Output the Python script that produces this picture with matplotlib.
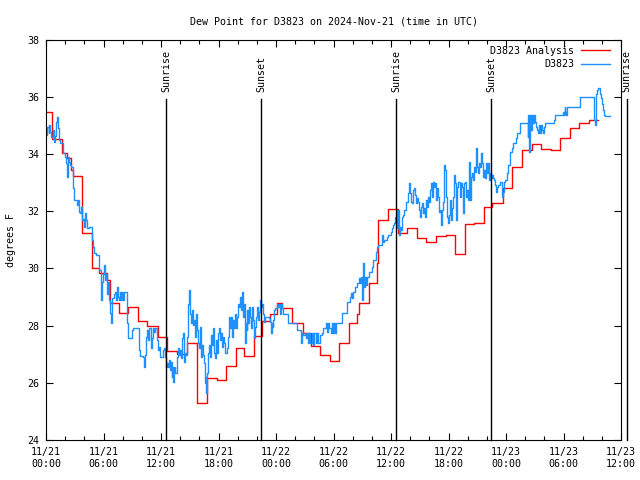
import matplotlib
matplotlib.use('Agg')
import matplotlib.pyplot as plt
import matplotlib.dates as mdates
import pandas as pd

plt.rcParams['font.family'] = 'DejaVu Sans Mono'
plt.rcParams['font.size'] = 7.2

start = pd.Timestamp('2024-11-21 00:00')

# analysis (hourly steps): hours since 11/21 00:00 UTC, dew point F
red_hours = [0.00, 0.66, 1.70, 2.19, 2.61, 2.79, 3.73, 4.80, 5.56, 6.40, 6.65, 7.62,
             8.59, 9.63, 10.57, 11.64, 12.63, 13.64, 14.71, 15.73, 16.77, 17.81,
             18.78, 19.80, 20.69, 21.74, 22.59, 23.37, 24.07, 24.60, 25.64, 26.77,
             27.65, 28.64, 29.64, 30.61, 31.62, 32.48, 32.66, 33.71, 34.54, 34.68,
             35.72, 36.76, 37.64, 38.68, 39.65, 40.67, 41.71, 42.68, 43.72, 44.69,
             45.74, 46.57, 47.66, 48.66, 49.67, 50.68, 51.65, 52.70, 53.67, 54.68,
             55.65, 56.66, 57.63]
red_dewpt = [35.45, 34.52, 34.02, 33.85, 33.44, 33.23, 31.25, 30.00, 29.83, 29.59, 28.78, 28.45,
             28.64, 28.17, 27.98, 27.59, 27.11, 26.99, 27.40, 25.30, 26.15, 26.09,
             26.57, 27.20, 26.93, 27.65, 28.16, 28.40, 28.78, 28.60, 28.10, 27.75,
             27.28, 26.97, 26.77, 27.38, 28.08, 28.40, 28.78, 29.48, 30.18, 31.69,
             32.06, 31.22, 31.40, 31.05, 30.93, 31.13, 31.16, 30.50, 31.54, 31.57,
             32.13, 32.29, 32.80, 33.55, 34.14, 34.35, 34.16, 34.14, 34.55, 34.90,
             35.09, 35.19, 35.19]

# station observations
blue_hours = [0.00, 0.14, 0.28, 0.35, 0.45, 0.56, 0.70, 0.80, 0.94, 1.04, 1.15, 1.25, 1.32, 1.46,
              1.67, 1.81, 1.95, 2.09, 2.16, 2.26, 2.37, 2.50, 2.64, 2.78, 2.96, 3.13, 3.23, 3.37,
              3.48, 3.58, 3.69, 3.76, 3.90, 4.00, 4.10, 4.21, 4.31, 4.45, 4.70, 4.80, 4.90, 5.04,
              5.22, 5.39, 5.57, 5.70, 5.77, 5.88, 5.98, 6.09, 6.19, 6.30, 6.37, 6.47, 6.57, 6.71,
              6.82, 6.92, 7.06, 7.20, 7.30, 7.41, 7.51, 7.62, 7.72, 7.83, 7.93, 8.07, 8.17, 8.35,
              8.45, 8.59, 8.77, 8.94, 9.11, 9.57, 9.67,
              9.81, 10.09, 10.23, 10.33, 10.44, 10.58, 10.68, 10.78, 10.92, 11.03, 11.13, 11.27,
              11.41, 11.55, 11.65, 11.76, 11.90, 12.07, 12.18, 12.31, 12.42, 12.49, 12.59, 12.70,
              12.80, 12.91, 13.01, 13.11, 13.18, 13.29, 13.39, 13.50, 13.64, 13.74, 13.84, 13.95,
              14.05, 14.16, 14.26, 14.37, 14.47, 14.58, 14.68, 14.75, 14.85, 14.96, 15.06, 15.17,
              15.27, 15.38, 15.48, 15.58, 15.69, 15.79, 15.90, 16.00, 16.11, 16.21, 16.31, 16.42,
              16.52, 16.59, 16.66, 16.73, 16.84, 16.94, 17.04, 17.15, 17.25, 17.36, 17.46, 17.57,
              17.67, 17.78, 17.88, 17.98, 18.09, 18.19, 18.30, 18.40, 18.51, 18.61, 18.71, 18.85,
              18.99, 19.13, 19.24, 19.34, 19.44, 19.55, 19.65, 19.76, 19.86, 19.97, 20.07, 20.18,
              20.24, 20.34, 20.41, 20.52, 20.59, 20.69, 20.80, 20.87, 20.94, 21.01, 21.11, 21.21,
              21.28, 21.39, 21.49, 21.60, 21.70, 21.81, 21.91, 22.05, 22.15, 22.26, 22.33, 22.43,
              22.54, 22.67, 22.74, 22.85, 23.23, 23.37, 23.47, 23.54, 23.65, 23.72, 23.82, 23.93,
              24.07, 24.17, 24.27, 24.38, 24.48, 24.59, 24.69, 25.21, 26.22, 26.61, 26.71, 26.85,
              27.02, 27.13, 27.23, 27.34, 27.44, 27.58, 27.72, 27.86, 28.00, 28.14, 28.27, 28.41,
              28.59, 28.76, 28.94, 29.07, 29.18, 29.28, 29.39, 29.49,
              29.64, 29.74, 29.85, 29.95, 30.06, 30.16, 30.27, 30.93, 31.38, 31.45, 31.73, 31.80,
              31.90, 32.00, 32.28, 32.42, 32.63, 32.77, 32.87, 32.94, 33.01, 33.08, 33.15, 33.26,
              33.36, 33.47, 33.74, 33.99, 34.16, 34.44, 34.54, 34.65, 35.07, 35.14, 35.31, 35.55,
              35.66, 35.97, 36.07, 36.18, 36.28, 36.39, 36.49, 36.60, 36.67, 36.74, 36.81, 36.87,
              36.94, 37.01, 37.12, 37.22, 37.36, 37.57, 37.71, 37.81, 37.92, 37.99, 38.06, 38.16,
              38.27, 38.37, 38.47, 38.58, 38.68, 38.79, 38.89, 38.96, 39.03, 39.14, 39.24, 39.34,
              39.45,
              39.55, 39.65, 39.76, 39.86, 39.97, 40.07, 40.18, 40.28, 40.38, 40.49, 40.59, 40.70,
              40.80, 40.91, 41.01, 41.12, 41.18, 41.25, 41.32, 41.43, 41.53, 41.64, 41.74, 41.85,
              41.95, 42.05, 42.16, 42.26, 42.37, 42.47, 42.58, 42.68, 42.78, 42.89, 42.99, 43.10,
              43.20, 43.31, 43.41, 43.52, 43.62, 43.72, 43.83, 43.93, 44.04, 44.11, 44.18, 44.28,
              44.38, 44.49, 44.59, 44.70, 44.80, 44.87, 44.94, 45.05, 45.15, 45.25, 45.36, 45.46,
              45.57, 45.67, 45.78, 45.88, 45.98, 46.09, 46.19, 46.26, 46.37, 46.47, 46.58, 46.68,
              46.78, 46.89, 46.96, 47.06, 47.20, 47.34, 47.58, 47.69, 47.79, 47.90, 48.11, 48.25,
              48.42, 48.63, 48.73,
              48.94, 49.04, 49.15, 49.36, 49.50, 50.16, 50.26, 50.33, 50.40, 50.47, 50.57, 50.68,
              50.78, 50.89, 50.99, 51.10, 51.20, 51.31, 51.41, 51.51, 51.62, 51.72, 51.83, 51.93,
              52.04, 52.94, 53.04, 53.15, 53.98, 54.05, 54.12, 54.19, 54.26, 54.37, 55.72, 57.11,
              57.22, 57.29, 57.36, 57.43, 57.50, 57.57, 57.71, 57.81, 57.91, 58.02, 58.12, 58.23,
              58.33, 58.85]
blue_dewpt = [34.66, 34.95, 34.72, 35.01, 34.77, 34.60, 34.84, 34.43, 34.61, 35.13, 35.30, 34.90, 34.49, 34.37,
              34.37, 34.03, 33.90, 33.67, 33.20, 33.90, 33.72, 33.61, 33.55, 32.80, 32.39, 32.39, 32.21, 32.39,
              31.98, 31.92, 32.15, 31.69, 31.74, 31.46, 31.92, 31.69, 31.40, 31.46, 31.46, 30.99, 30.75, 30.52,
              30.46, 30.46, 29.94, 29.59, 28.90, 29.53, 29.82, 30.12, 29.59, 29.82, 29.12, 29.53, 28.90, 28.43,
              28.08, 28.95, 29.12, 29.18, 28.90, 29.36, 29.00, 28.90, 29.18, 28.90, 29.18, 28.90, 29.18, 29.18,
              28.08, 27.55, 27.55, 27.84, 27.90, 27.90, 27.14,
              26.93, 26.91, 26.56, 26.97, 27.61, 27.84, 27.49, 27.90, 27.20, 27.55, 27.90, 27.78,
              27.90, 27.49, 27.14, 27.26, 26.89, 26.89, 27.14, 27.20, 26.89, 26.56, 26.68, 26.54,
              26.79, 26.44, 26.73, 26.21, 26.56, 26.04, 26.56, 26.33, 26.91, 27.20, 26.97, 27.14,
              26.85, 27.55, 27.73, 26.73, 27.03, 26.97, 27.38, 27.61, 28.77, 29.24, 28.42, 28.08,
              28.54, 28.02, 28.19, 27.61, 28.42, 27.84, 27.38, 27.20, 27.96, 26.91, 27.32, 26.97,
              26.68, 25.98, 26.21, 25.63, 26.33, 27.03, 27.32, 26.91, 27.67, 27.32, 27.90, 27.03,
              26.85, 27.49, 27.03, 27.73, 27.90, 27.49, 27.73, 27.26, 27.61, 27.38, 27.03, 27.20,
              27.61, 28.31, 27.90, 28.31, 27.61, 28.19, 27.90, 28.42, 27.90, 28.31, 28.77, 28.66,
              29.01, 28.54, 29.18, 28.60, 28.31, 28.77, 27.38, 28.08, 27.84, 28.54, 28.08, 28.66,
              28.31, 27.90, 28.66, 28.19, 27.55, 27.96, 28.31, 28.66, 28.19, 28.48, 28.89, 28.66,
              28.77, 28.42, 28.13, 28.31, 28.28, 28.13, 27.73, 28.08, 27.96, 28.19, 28.54, 28.60,
              28.77, 28.66, 28.77, 28.42, 28.77, 28.60, 28.42, 28.10, 27.84, 27.38, 27.73, 27.67,
              27.73, 27.55, 27.73, 27.38, 27.73, 27.38, 27.73, 27.32, 27.73, 27.38, 27.73, 27.38,
              27.67, 27.73, 27.90, 27.90, 28.08, 27.78, 28.08, 27.90,
              27.90, 27.73, 28.08, 27.73, 28.08, 27.73, 28.08, 28.43, 28.66, 28.84, 29.01, 29.13,
              28.95, 29.19, 29.36, 29.48, 29.65, 29.48, 29.71, 29.24, 28.89, 30.18, 29.36, 29.71,
              29.42, 29.71, 29.89, 30.06, 30.29, 30.58, 30.76, 30.82, 31.16, 30.93, 30.99, 31.11,
              31.17, 31.28, 31.40, 31.51, 31.57, 31.81, 31.69, 32.04, 31.40, 32.04, 31.40, 31.17,
              31.46, 31.34, 31.81, 31.87, 32.04, 32.33, 32.31, 32.62, 32.97, 32.62, 32.33, 32.27,
              32.74, 32.80, 32.56, 32.27, 32.45, 32.33, 32.27, 32.04, 31.81, 32.16, 32.27, 31.92,
              32.10,
              31.81, 32.39, 32.16, 32.51, 32.33, 32.74, 32.97, 32.51, 33.03, 32.86, 32.97, 32.39,
              32.80, 32.51, 31.98, 32.04, 31.69, 31.52, 32.04, 32.33, 33.61, 33.44, 32.51, 31.81,
              31.57, 31.86, 32.39, 31.69, 32.10, 32.51, 33.26, 32.97, 31.69, 32.86, 33.03, 33.03,
              32.51, 32.97, 32.86, 31.92, 32.97, 33.03, 32.51, 32.74, 32.39, 32.97, 33.73, 32.39,
              33.21, 33.32, 33.09, 33.56, 33.38, 34.20, 33.56, 33.32, 33.67, 33.56, 34.02, 33.67,
              33.21, 33.44, 33.15, 33.67, 33.32, 33.67, 33.21, 33.09, 33.32, 33.15, 33.26, 33.15,
              33.09, 32.91, 32.68, 32.86, 32.91, 33.03, 32.50, 32.68, 33.03, 33.09, 33.32, 33.61,
              34.08, 34.20, 34.37,
              34.37, 34.54, 34.72, 34.72, 35.07, 35.07, 34.60, 35.36, 34.08, 35.36, 34.84, 35.36,
              35.07, 35.36, 35.13, 34.95, 34.84, 34.72, 35.01, 34.72, 35.01, 34.84, 34.72, 34.95,
              35.07, 35.07, 35.18, 35.36, 35.47, 35.36, 35.65, 35.47, 35.36, 35.65, 36.00, 36.00,
              35.18, 35.01, 36.00, 36.11, 36.23, 36.29, 36.29, 36.11, 35.94, 35.76, 35.53, 35.36,
              35.33, 35.33]

sun_hours = [12.52, 22.47, 36.56, 46.47, 60.60]
sun_labels = ['Sunrise', 'Sunset', 'Sunrise', 'Sunset', 'Sunrise']

red_t = start + pd.to_timedelta(red_hours, unit='h')
blue_t = start + pd.to_timedelta(blue_hours, unit='h')
sun_t = start + pd.to_timedelta(sun_hours, unit='h')

fig = plt.figure(figsize=(6.4, 4.8), dpi=100)
ax = fig.add_axes([46 / 640, 40 / 480, 575 / 640, 400.5 / 480])

ax.plot(red_t, red_dewpt, color='#ff0000', lw=1.0, drawstyle='steps-post', label='D3823 Analysis')
ax.plot(blue_t, blue_dewpt, color='#1e90ff', lw=1.0, drawstyle='steps-post', label='D3823')

for t, lab in zip(sun_t, sun_labels):
    ax.plot([t, t], [24, 35.92], color='black', lw=1.0, clip_on=False)
    ax.text(t, 36.17, lab, rotation=90, ha='center', va='bottom', clip_on=False)

ax.set_xlim(start, start + pd.Timedelta(hours=60))
ax.set_ylim(24, 38)
ax.set_yticks(range(24, 39, 2))
ax.xaxis.set_major_locator(mdates.HourLocator(byhour=[0, 6, 12, 18]))
ax.xaxis.set_minor_locator(mdates.HourLocator(byhour=range(0, 24, 2)))
ax.xaxis.set_major_formatter(mdates.DateFormatter('%m/%d\n%H:%M'))
ax.tick_params(which='both', direction='in', top=True, right=True, width=0.8, pad=5)
ax.tick_params(which='major', length=5)
ax.tick_params(which='minor', length=3)
for s in ax.spines.values():
    s.set_linewidth(0.8)

ax.set_ylabel('degrees F', labelpad=8)
ax.set_title('Dew Point for D3823 on 2024-Nov-21 (time in UTC)', fontsize=7.2, pad=11)
ax.legend(loc='upper right', bbox_to_anchor=(0.981, 0.985), frameon=False, markerfirst=False,
          handlelength=2.9, handletextpad=0.7, labelspacing=0.35, borderpad=0, borderaxespad=0)

fig.savefig('out.png', dpi=100)
